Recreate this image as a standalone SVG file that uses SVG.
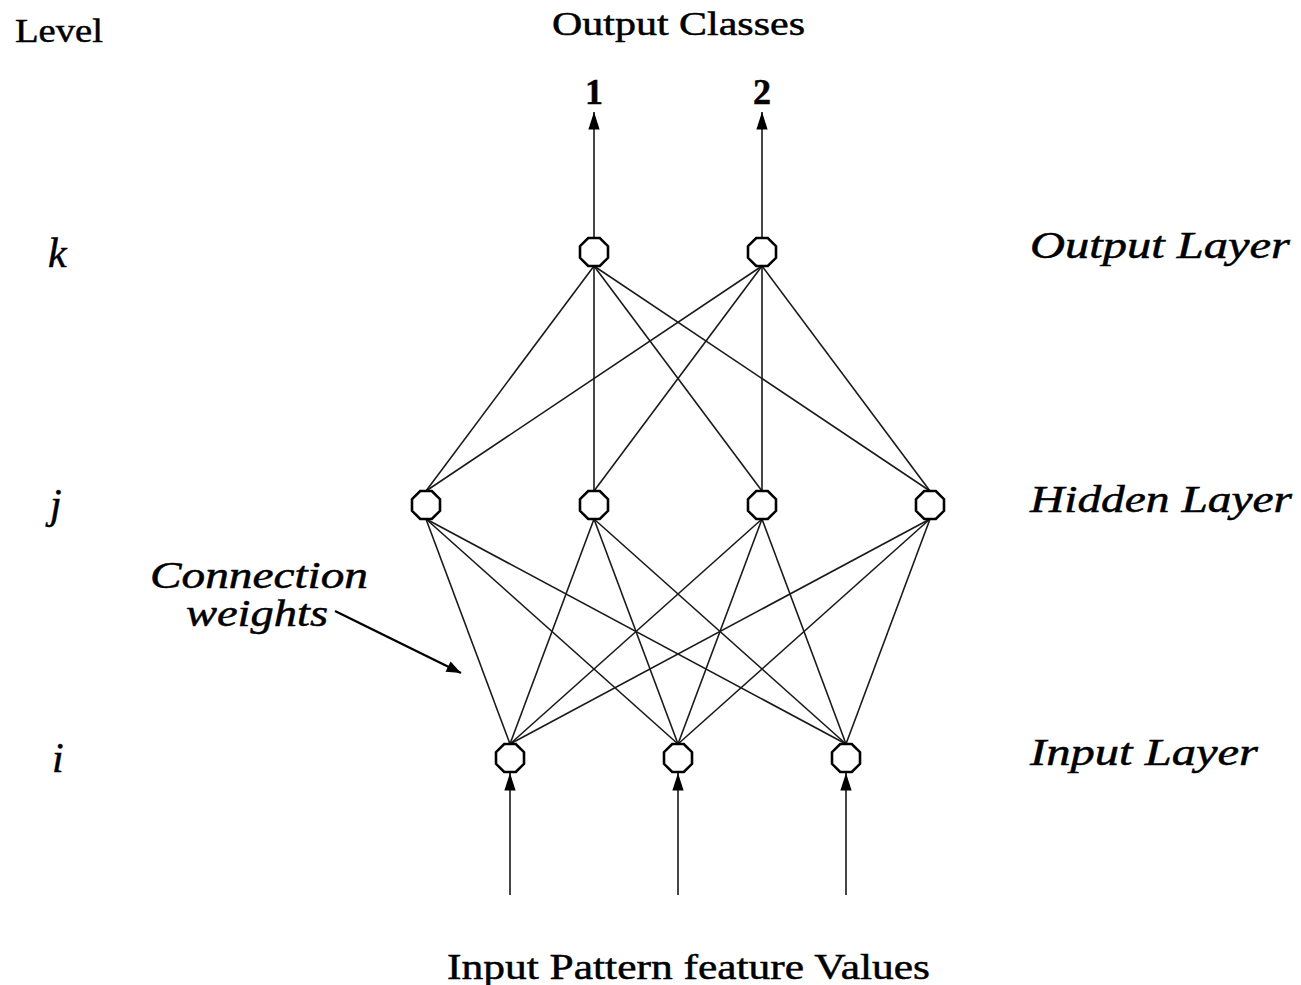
<svg xmlns="http://www.w3.org/2000/svg" width="1301" height="985" viewBox="0 0 1301 985">
<style>
.t{font-family:"Liberation Serif","Times New Roman",serif;fill:#000;stroke:#000;stroke-width:0.5}
.it{font-family:"Liberation Serif","Times New Roman",serif;font-style:italic;fill:#000;stroke:#000;stroke-width:0.5}
.c{stroke:#1a1a1a;stroke-width:1.6;fill:none}
.n{fill:#fff;stroke:#000;stroke-width:2.6}
</style>
<defs>
<marker id="ah" viewBox="0 0 10 10" refX="10" refY="5" markerWidth="8" markerHeight="6" markerUnits="strokeWidth" orient="auto">
<path d="M0,1 L10,5 L0,9 z" fill="#000"/>
</marker>
<marker id="ah2" viewBox="0 0 10 10" refX="10" refY="5" markerWidth="11" markerHeight="11" markerUnits="strokeWidth" orient="auto">
<path d="M0,1.8 L10,5 L0,8.2 z" fill="#000"/>
</marker>
<polygon id="oct" points="-5.8,-14 5.8,-14 14,-5.8 14,5.8 5.8,14 -5.8,14 -14,5.8 -14,-5.8"/>
</defs>
<rect width="1301" height="985" fill="#fff"/>
<g id="connectors">
<line class="c" x1="594" y1="238" x2="594" y2="112" marker-end="url(#ah2)"/>
<line class="c" x1="762" y1="238" x2="762" y2="112" marker-end="url(#ah2)"/>
<line class="c" x1="510" y1="895" x2="510" y2="773" marker-end="url(#ah2)"/>
<line class="c" x1="678" y1="895" x2="678" y2="773" marker-end="url(#ah2)"/>
<line class="c" x1="846" y1="895" x2="846" y2="773" marker-end="url(#ah2)"/>
<line class="c" x1="594" y1="266" x2="426" y2="491"/>
<line class="c" x1="594" y1="266" x2="594" y2="491"/>
<line class="c" x1="594" y1="266" x2="762" y2="491"/>
<line class="c" x1="594" y1="266" x2="930" y2="491"/>
<line class="c" x1="762" y1="266" x2="426" y2="491"/>
<line class="c" x1="762" y1="266" x2="594" y2="491"/>
<line class="c" x1="762" y1="266" x2="762" y2="491"/>
<line class="c" x1="762" y1="266" x2="930" y2="491"/>
<line class="c" x1="426" y1="519" x2="510" y2="744"/>
<line class="c" x1="426" y1="519" x2="678" y2="744"/>
<line class="c" x1="426" y1="519" x2="846" y2="744"/>
<line class="c" x1="594" y1="519" x2="510" y2="744"/>
<line class="c" x1="594" y1="519" x2="678" y2="744"/>
<line class="c" x1="594" y1="519" x2="846" y2="744"/>
<line class="c" x1="762" y1="519" x2="510" y2="744"/>
<line class="c" x1="762" y1="519" x2="678" y2="744"/>
<line class="c" x1="762" y1="519" x2="846" y2="744"/>
<line class="c" x1="930" y1="519" x2="510" y2="744"/>
<line class="c" x1="930" y1="519" x2="678" y2="744"/>
<line class="c" x1="930" y1="519" x2="846" y2="744"/>
<line x1="335" y1="611" x2="461" y2="673" stroke="#000" stroke-width="2.4" marker-end="url(#ah)"/>
</g>
<g id="out1"><use href="#oct" class="n" x="594" y="252"/></g>
<g id="out2"><use href="#oct" class="n" x="762" y="252"/></g>
<g id="hid1"><use href="#oct" class="n" x="426" y="505"/></g>
<g id="hid2"><use href="#oct" class="n" x="594" y="505"/></g>
<g id="hid3"><use href="#oct" class="n" x="762" y="505"/></g>
<g id="hid4"><use href="#oct" class="n" x="930" y="505"/></g>
<g id="in1"><use href="#oct" class="n" x="510" y="758"/></g>
<g id="in2"><use href="#oct" class="n" x="678" y="758"/></g>
<g id="in3"><use href="#oct" class="n" x="846" y="758"/></g>
<g id="labels">
<text class="t" x="15" y="42" font-size="34" textLength="88" lengthAdjust="spacingAndGlyphs">Level</text>
<text class="t" x="552" y="35" font-size="34" textLength="253" lengthAdjust="spacingAndGlyphs">Output Classes</text>
<text class="t" x="594" y="104" font-size="36" font-weight="bold" text-anchor="middle">1</text>
<text class="t" x="762" y="104" font-size="36" font-weight="bold" text-anchor="middle">2</text>
<text class="it" x="48" y="267" font-size="42">k</text>
<text class="it" x="50" y="518" font-size="42">j</text>
<text class="it" x="52" y="772" font-size="42">i</text>
<text class="it" x="1030" y="258" font-size="37" textLength="260" lengthAdjust="spacingAndGlyphs">Output Layer</text>
<text class="it" x="1030" y="512" font-size="37" textLength="262" lengthAdjust="spacingAndGlyphs">Hidden Layer</text>
<text class="it" x="1030" y="765" font-size="37" textLength="228" lengthAdjust="spacingAndGlyphs">Input Layer</text>
<text class="it" x="150" y="588" font-size="37" textLength="218" lengthAdjust="spacingAndGlyphs">Connection</text>
<text class="it" x="186" y="626" font-size="37" textLength="142" lengthAdjust="spacingAndGlyphs">weights</text>
<text class="t" x="447" y="979" font-size="36" textLength="483" lengthAdjust="spacingAndGlyphs">Input Pattern feature Values</text>
</g>
</svg>
